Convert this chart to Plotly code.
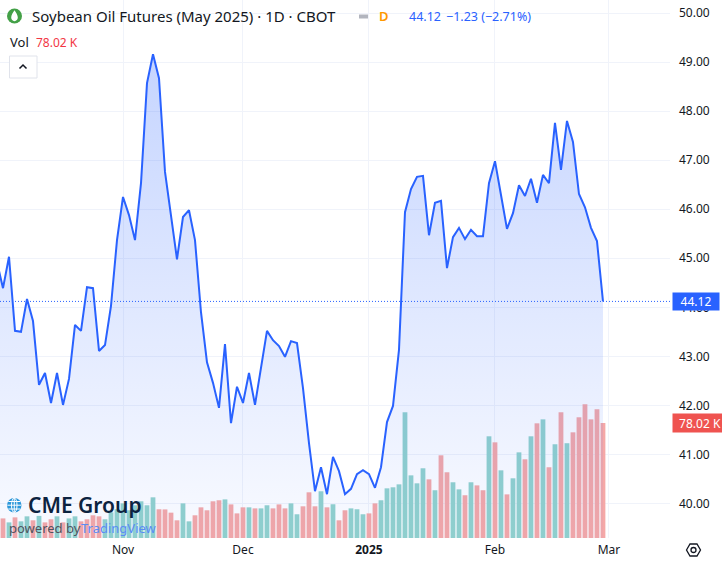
import pandas as pd
import plotly.graph_objects as go

W, H = 722, 561
ML, MR, MT, MB = 0, 52, 0, 23
PW, PH = W - ML - MR, H - MT - MB
FONT = "Noto Sans"

# trading days shown (CBOT holidays removed)
holidays = ["2024-11-28", "2024-12-25", "2025-01-01", "2025-01-20", "2025-02-17"]
dates = [d for d in pd.bdate_range("2024-10-03", "2025-02-28").strftime("%Y-%m-%d")
         if d not in holidays]

close = [
    44.92, 44.39, 45.03, 43.52, 43.50, 44.17, 43.72, 42.42, 42.66, 42.05,
    42.66, 42.01, 42.54, 43.64, 43.52, 44.41, 44.39, 43.11, 43.23, 44.03,
    45.37, 46.25, 45.88, 45.37, 46.53, 48.57, 49.16, 48.67, 46.76, 45.92,
    44.98, 45.84, 45.98, 45.37, 43.90, 42.88, 42.46, 41.95, 43.25, 41.64,
    42.38, 42.05, 42.66, 42.01, 42.78, 43.52, 43.33, 43.21, 42.99, 43.31,
    43.27, 42.35, 41.23, 40.25, 40.74, 40.19, 40.95, 40.66, 40.19, 40.30,
    40.60, 40.68, 40.60, 40.32, 40.74, 41.66, 41.99, 43.13, 45.94, 46.41,
    46.66, 46.68, 45.47, 46.13, 46.17, 44.80, 45.43, 45.62, 45.39, 45.58,
    45.45, 45.45, 46.53, 46.98, 46.29, 45.60, 45.92, 46.49, 46.27, 46.62,
    46.13, 46.70, 46.53, 47.76, 46.80, 47.80, 47.37, 46.31, 46.04, 45.62,
    45.35, 44.12,
]

# volume in thousands of contracts
volume = [
    12.0,
    13.3, 10.6, 14.0, 11.3, 14.7, 12.0, 15.0, 10.6, 12.7, 14.7,
    10.6, 13.3, 14.7, 11.3, 12.7, 15.4, 14.7, 12.7, 17.4, 19.5,
    23.5, 18.8, 22.2, 24.9, 22.2, 27.6, 19.5, 19.4, 17.2, 12.0,
    23.5, 11.3, 15.4, 20.8, 18.8, 24.9, 25.6, 26.2, 22.8, 16.7,
    20.8, 20.8, 20.1, 20.1, 22.2, 20.1, 22.8, 20.1, 23.5, 16.1,
    21.5, 31.0, 21.5, 31.7, 20.8, 22.9, 12.0, 18.8, 20.1, 19.5,
    16.1, 16.7, 23.5, 25.6, 33.7, 34.4, 36.4, 85.3, 42.5, 37.1,
    47.3, 39.8, 32.4, 56.1, 44.6, 37.8, 33.0, 29.0, 37.8, 35.7,
    32.4, 69.0, 64.9, 45.9, 29.6, 40.5, 58.1, 53.4, 69.0, 77.8,
    80.5, 48.0, 63.6, 85.3, 64.3, 71.7, 81.9, 90.7, 80.5, 87.3,
    78.02,
]

# candle direction of each bar: u = up, d = down
direction = list(
    "d"
    "duduududdu" "duudddduuu" "uuuuuudddd" "uudddddudd" "duduuddduu"
    "dddududduu" "udduuuuuuu" "ududduudud" "dududuudud" "udududdddd"
    "d"
)

month_labels = ["Nov", "Dec", "<b>2025</b>", "Feb", "Mar"]

UP = "#92D2CC"
DOWN = "#F5A8A7"
BLUE = "#2962FF"
TEXT = "#131722"
GRID = "#F0F3FA"


def px(x):
    return (x - ML) / PW


def py(y):
    return 1 - (y - MT) / PH


def path(points, close_it=True):
    # one SVG command per entry, coordinates given in page pixels
    parts = []
    for cmd, pts in points:
        coords = " ".join(f"{px(a):.5f},{py(b):.5f}" for a, b in pts)
        parts.append(f"{cmd}{coords}")
    return " ".join(parts) + (" Z" if close_it else "")


xi = list(range(len(dates)))

# first trading day of every month, plus the next (future) slot for March
month_pos = []
for i in range(1, len(dates)):
    if dates[i][5:7] != dates[i - 1][5:7]:
        month_pos.append(i)
month_pos.append(len(dates))

fig = go.Figure()
fig.add_trace(go.Bar(
    x=xi, y=volume, yaxis="y",
    marker=dict(color=[UP if c == "u" else DOWN for c in direction], line_width=0),
    width=0.8, hoverinfo="skip",
))
fig.add_trace(go.Scatter(
    x=xi, y=close, yaxis="y2", mode="lines",
    line=dict(color=BLUE, width=2),
    fill="tozeroy",
    fillgradient=dict(
        type="vertical",
        colorscale=[[0, "rgba(41,98,255,0.03)"], [1, "rgba(41,98,255,0.27)"]],
        start=39.3, stop=max(close),
    ),
    hoverinfo="skip",
))

hexagon = [("M", [(686.5, 550)])] + [("L", [p]) for p in
                                     [(690, 544), (697, 544), (700.5, 550), (697, 556), (690, 556)]]

shapes = [
    # last price line
    dict(type="line", xref="paper", yref="y2", x0=0, x1=1, y0=close[-1], y1=close[-1],
         line=dict(color=BLUE, width=1, dash="1px,2px")),
    # symbol icon
    dict(type="circle", xref="paper", yref="paper", x0=px(7), x1=px(22), y0=py(23.5), y1=py(8.5),
         fillcolor="#43A047", line_width=0),
    dict(type="path", xref="paper", yref="paper", fillcolor="white", line_width=0,
         path=path([("M", [(14.5, 10.2)]),
                    ("C", [(16.0, 12.6), (17.8, 15.0), (17.8, 17.6)]),
                    ("C", [(17.8, 19.6), (16.3, 21.2), (14.5, 21.2)]),
                    ("C", [(12.7, 21.2), (11.2, 19.6), (11.2, 17.6)]),
                    ("C", [(11.2, 15.0), (13.0, 12.6), (14.5, 10.2)])])),
    # grey dash in legend
    dict(type="line", xref="paper", yref="paper", x0=px(359), x1=px(368), y0=py(16.5), y1=py(16.5),
         line=dict(color="#B2B5BE", width=4)),
    # collapse button
    dict(type="rect", xref="paper", yref="paper", x0=px(9.5), x1=px(37), y0=py(78), y1=py(56),
         fillcolor="white", line=dict(color="#E0E3EB", width=1)),
    dict(type="path", xref="paper", yref="paper",
         path=path([("M", [(19.5, 68.5)]), ("L", [(23, 65)]), ("L", [(26.5, 68.5)])], close_it=False),
         line=dict(color=TEXT, width=1.5)),
    # CME globe
    dict(type="circle", xref="paper", yref="paper", x0=px(7), x1=px(21.5), y0=py(512.5), y1=py(498),
         fillcolor="#2A97DA", line_width=0),
    dict(type="circle", xref="paper", yref="paper", x0=px(11.5), x1=px(17), y0=py(512.5), y1=py(498),
         line=dict(color="white", width=1)),
    dict(type="line", xref="paper", yref="paper", x0=px(14.25), x1=px(14.25), y0=py(512.5), y1=py(498),
         line=dict(color="white", width=1)),
    dict(type="line", xref="paper", yref="paper", x0=px(7.3), x1=px(21.2), y0=py(505.2), y1=py(505.2),
         line=dict(color="white", width=1)),
    dict(type="line", xref="paper", yref="paper", x0=px(8.3), x1=px(20.2), y0=py(501.5), y1=py(501.5),
         line=dict(color="white", width=1)),
    dict(type="line", xref="paper", yref="paper", x0=px(8.3), x1=px(20.2), y0=py(509), y1=py(509),
         line=dict(color="white", width=1)),
    # settings icon
    dict(type="path", xref="paper", yref="paper", path=path(hexagon),
         line=dict(color=TEXT, width=1.3)),
    dict(type="circle", xref="paper", yref="paper", x0=px(691), x1=px(696), y0=py(552.5), y1=py(547.5),
         line=dict(color=TEXT, width=1.3)),
]

annotations = [
    dict(text="Soybean Oil Futures (May 2025) · 1D · CBOT", x=px(30), y=py(16.5),
         font=dict(size=15, color=TEXT)),
    dict(text="D", x=px(377), y=py(16.5), font=dict(size=13, color="#FF9800", weight=600)),
    dict(text="44.12", x=px(407), y=py(16.5), font=dict(size=12.5, color=BLUE)),
    dict(text="−1.23 (−2.71%)", x=px(444), y=py(16.5), font=dict(size=12.5, color=BLUE)),
    dict(text="Vol", x=px(8), y=py(42), font=dict(size=13, color=TEXT)),
    dict(text="78.02 K", x=px(34), y=py(42), font=dict(size=12, color="#F23645")),
    dict(text="CME Group", x=px(26), y=py(505), font=dict(size=21, color="#0C2340", weight=600)),
    dict(text="powered by", x=px(7), y=py(528), font=dict(size=13, color="#50535E")),
    dict(text="TradingView", x=px(79), y=py(528), font=dict(size=13, color="#5A8CF5")),
]
for a in annotations:
    a.update(xref="paper", yref="paper", xanchor="left", yanchor="middle", showarrow=False)

# price and volume badges on the right scale
annotations += [
    dict(text="44.12", xref="paper", yref="y2", x=px(671.5), y=close[-1], xanchor="left",
         yanchor="middle", showarrow=False, bgcolor=BLUE, width=46, height=17, borderpad=0,
         font=dict(size=12, color="white")),
    dict(text="78.02 K", xref="paper", yref="y", x=px(671.5), y=volume[-1], xanchor="left",
         yanchor="middle", showarrow=False, bgcolor="#EF5350", width=54, height=18, borderpad=0,
         font=dict(size=12, color="white")),
]

fig.update_layout(
    width=W, height=H, autosize=False,
    margin=dict(l=ML, r=MR, t=MT, b=MB, pad=0),
    paper_bgcolor="white", plot_bgcolor="white",
    font=dict(family=FONT, color=TEXT, size=12),
    showlegend=False, hovermode=False,
    xaxis=dict(
        range=[0.5, 112.17], tickvals=month_pos, ticktext=month_labels,
        showgrid=True, gridcolor=GRID, zeroline=False, showline=False, ticks="",
        ticklabelstandoff=3, tickfont=dict(size=12, color=TEXT), fixedrange=True,
    ),
    yaxis=dict(range=[0, 365], visible=False, fixedrange=True),
    yaxis2=dict(
        overlaying="y", side="right", range=[39.297, 50.265], tick0=40, dtick=1,
        tickformat=".2f", showgrid=True, gridcolor=GRID, zeroline=False, showline=False,
        ticks="", ticklabelstandoff=8, tickfont=dict(size=12, color=TEXT), fixedrange=True,
    ),
    shapes=shapes,
    annotations=annotations,
)

fig.write_html(
    "out.html",
    config={"displayModeBar": False},
    post_script="document.body.style.margin='0';document.body.style.overflow='hidden';",
)
